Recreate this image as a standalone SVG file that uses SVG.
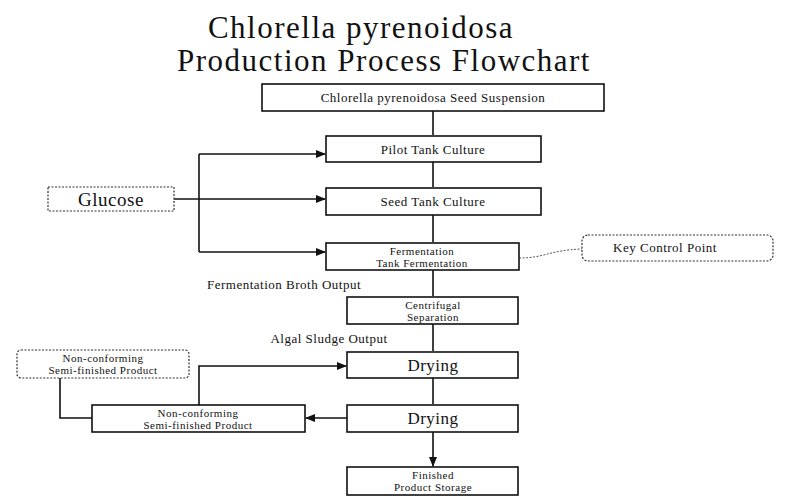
<svg xmlns="http://www.w3.org/2000/svg" width="800" height="500" viewBox="0 0 800 500" font-family="'Liberation Serif','DejaVu Serif','Times New Roman',serif">
<defs>
<style>
text{font-family:'Liberation Serif','DejaVu Serif','Times New Roman',serif;fill:#111;text-anchor:middle;letter-spacing:0.5px}
.b{fill:#fff;stroke:#111;stroke-width:1.6}
.d{fill:#fff;stroke:#333;stroke-width:1.2;stroke-dasharray:2 1.5}
.c{fill:none;stroke:#111;stroke-width:1.6}
.s{font-size:13px}
.t{font-size:11px}
.h{font-size:31px;letter-spacing:1.5px}
</style>
<marker id="a" markerWidth="10" markerHeight="8" refX="9" refY="4" orient="auto" markerUnits="userSpaceOnUse"><path d="M0,0L10,4L0,8z" fill="#111"/></marker>
</defs>
<rect width="800" height="500" fill="#fff"/>
<text x="361" y="38" class="h">Chlorella pyrenoidosa</text>
<text x="384" y="71" class="h">Production Process Flowchart</text>
<g id="connectors">
<path class="c" d="M433,111V135M433,162V187M433,215V242M433,270V296M433,324V351M433,378V404M433,432V466" marker-end="url(#a)"/>
<path class="c" d="M199,154H325" marker-end="url(#a)"/>
<path class="c" d="M174,199H325" marker-end="url(#a)"/>
<path class="c" d="M199,252H325" marker-end="url(#a)"/>
<path class="c" d="M199,154V252"/>
<path class="c" d="M347,418H306" marker-end="url(#a)"/>
<path class="c" d="M60,378V418H92"/>
<path class="c" d="M199,405V366H346" marker-end="url(#a)"/>
<path d="M519,258C545,258 550,250 582,249" fill="none" stroke="#555" stroke-width="1" stroke-dasharray="2 1.5"/>
</g>
<text x="284" y="289" class="s">Fermentation Broth Output</text>
<text x="329" y="343" class="s">Algal Sludge Output</text>
<g id="seed"><rect class="b" x="262" y="84" width="342" height="27"/><text x="433" y="102" class="s">Chlorella pyrenoidosa Seed Suspension</text></g>
<g id="pilot"><rect class="b" x="326" y="136" width="215" height="26"/><text x="433" y="154" class="s">Pilot Tank Culture</text></g>
<g id="seedtank"><rect class="b" x="326" y="188" width="215" height="27"/><text x="433" y="206" class="s">Seed Tank Culture</text></g>
<g id="ferm"><rect class="b" x="326" y="243" width="193" height="27"/><text x="422" y="255" class="t">Fermentation</text><text x="422" y="267" class="t">Tank Fermentation</text></g>
<g id="keycp"><rect class="d" x="582" y="235" width="191" height="26" rx="6"/><text x="665" y="252" class="s">Key Control Point</text></g>
<g id="glucose"><rect class="d" x="48" y="187" width="126" height="24"/><text x="111" y="206" font-size="19">Glucose</text></g>
<g id="centri"><rect class="b" x="347" y="297" width="171" height="27"/><text x="433" y="309" class="t">Centrifugal</text><text x="433" y="321" class="t">Separation</text></g>
<g id="dry1"><rect class="b" x="347" y="352" width="171" height="26"/><text x="433" y="371" font-size="17">Drying</text></g>
<g id="dry2"><rect class="b" x="347" y="405" width="171" height="27"/><text x="433" y="424" font-size="17">Drying</text></g>
<g id="finished"><rect class="b" x="347" y="467" width="171" height="28"/><text x="433" y="479" class="t">Finished</text><text x="433" y="491" class="t">Product Storage</text></g>
<g id="nc1"><rect class="d" x="17" y="350" width="172" height="28" rx="4"/><text x="103" y="362" class="t">Non-conforming</text><text x="103" y="374" class="t">Semi-finished Product</text></g>
<g id="nc2"><rect class="b" x="92" y="405" width="213" height="27"/><text x="198" y="417" class="t">Non-conforming</text><text x="198" y="429" class="t">Semi-finished Product</text></g>
</svg>
